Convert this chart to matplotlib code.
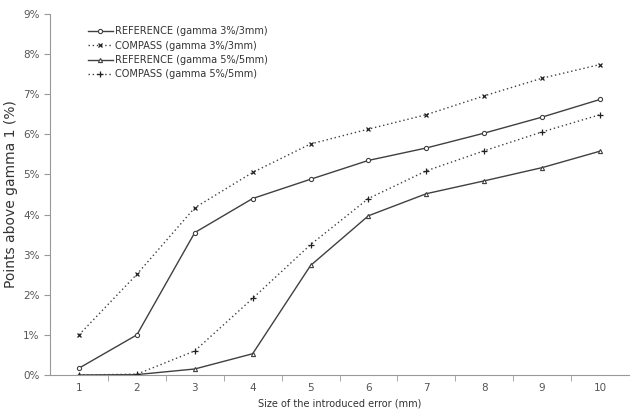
import matplotlib.pyplot as plt
import numpy as np
from matplotlib.ticker import FuncFormatter

errors = [1, 2, 3, 4, 5, 6, 7, 8, 9, 10]
ref_3mm = [0.17, 1.0, 3.55, 4.4, 4.88, 5.35, 5.66, 6.03, 6.43, 6.87]
compass_3mm = [1.0, 2.51, 4.17, 5.05, 5.76, 6.13, 6.49, 6.96, 7.40, 7.74]
ref_5mm = [0.0, 0.01, 0.15, 0.53, 2.73, 3.97, 4.52, 4.84, 5.17, 5.58]
compass_5mm = [0.0, 0.02, 0.6, 1.91, 3.25, 4.4, 5.09, 5.59, 6.06, 6.49]

fig = plt.figure(figsize=(6.31, 4.11), dpi=100)
ax = fig.add_axes([50 / 631, 36 / 411, 579 / 631, 361 / 411])

grey = "#404040"
dots = (0, (1, 2))
ax.plot(errors, ref_3mm, "-", color=grey, lw=1, marker="o", ms=3,
        mfc="white", mec=grey, mew=0.8, label="REFERENCE (gamma 3%/3mm)")
ax.plot(errors, compass_3mm, linestyle=dots, color=grey, lw=1, marker="x", ms=3.5,
        mec="#202020", mew=0.9, label="COMPASS (gamma 3%/3mm)")
ax.plot(errors, ref_5mm, "-", color=grey, lw=1, marker="^", ms=3,
        mfc="white", mec=grey, mew=0.8, label="REFERENCE (gamma 5%/5mm)")
ax.plot(errors, compass_5mm, linestyle=dots, color=grey, lw=1, marker="+", ms=4.5,
        mec="#202020", mew=0.9, label="COMPASS (gamma 5%/5mm)")

ax.set_xlim(0.5, 10.5)
ax.set_ylim(0, 9)
ax.set_xticks(errors)
ax.set_xticks(np.arange(1.5, 10.5, 1), minor=True)
ax.tick_params(axis="x", which="major", length=0, labelsize=7.5, colors="#555555", pad=6)
ax.tick_params(axis="x", which="minor", length=4, color="#999999", direction="out")
ax.set_yticks(np.arange(0, 10, 1))
ax.yaxis.set_major_formatter(FuncFormatter(lambda v, p: "%d%%" % v))
ax.tick_params(axis="y", length=4, color="#999999", labelsize=7.5, colors="#555555")
ax.tick_params(axis="y", color="#999999")

for s in ["top", "right"]:
    ax.spines[s].set_visible(False)
for s in ["left", "bottom"]:
    ax.spines[s].set_color("#999999")
    ax.spines[s].set_linewidth(0.8)

ax.set_xlabel("Size of the introduced error (mm)", fontsize=7, color="#333333", labelpad=4)
ax.set_ylabel("Points above gamma 1 (%)", fontsize=10, color="#333333", labelpad=4)

leg = ax.legend(loc="upper left", bbox_to_anchor=(0.05, 0.99), frameon=False,
                fontsize=7, handlelength=2.6, labelspacing=0.45, handletextpad=0.2)
for t in leg.get_texts():
    t.set_color("#333333")

fig.savefig("out.png", dpi=100)
